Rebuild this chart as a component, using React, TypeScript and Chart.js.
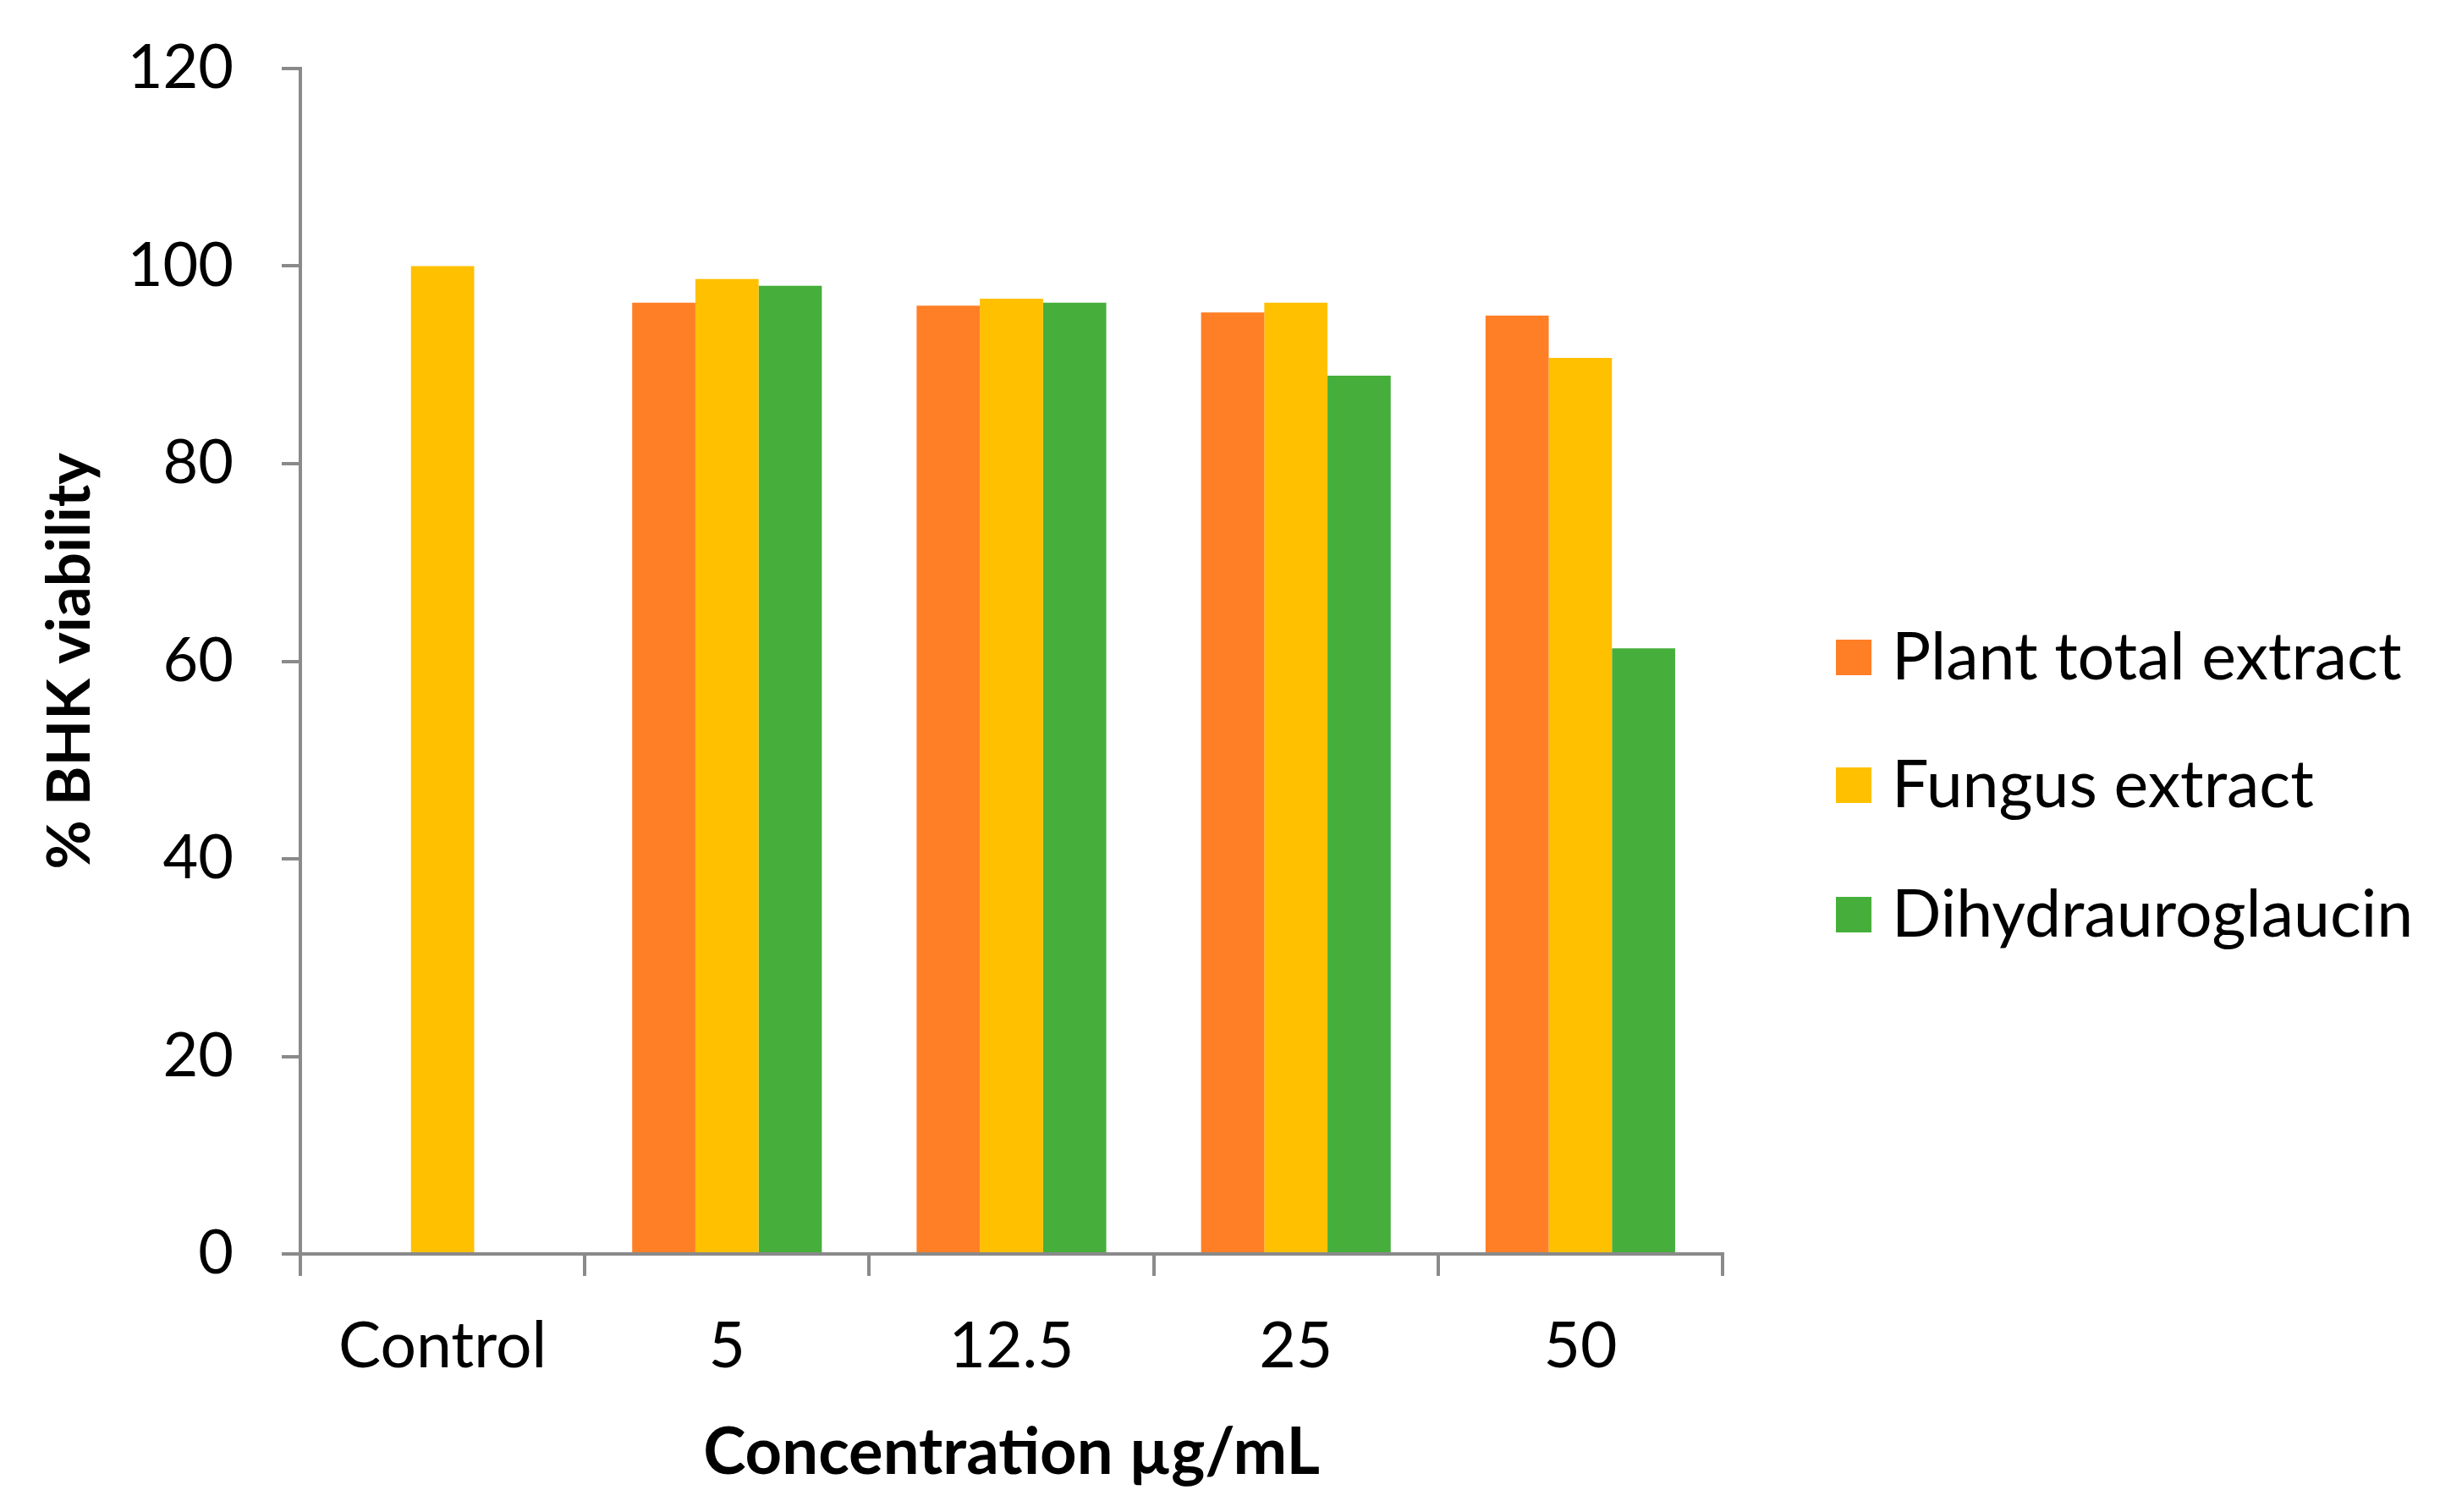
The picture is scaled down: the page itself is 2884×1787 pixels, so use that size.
import React, { useEffect, useRef } from "react";
import { Chart, registerables } from "chart.js";

Chart.register(...registerables);

const categories = ["Control", "5", "12.5", "25", "50"];
const seriesNames = ["Plant total extract", "Fungus extract", "Dihydrauroglaucin"];
const plantValues = [null, 96.3, 96.0, 95.3, 95.0];
const fungusValues = [100, 98.7, 96.7, 96.3, 90.7];
const dihydroValues = [null, 98.0, 96.3, 88.9, 61.3];
const seriesColors = ["#FF7F27", "#FFC000", "#46AF3B"];
const yTitle = "% BHK viability";
const xTitle = "Concentration µg/mL";

const FONT = "Lato";
const AXIS = "#8a8a8a";

const legendPlugin = {
  id: "customLegend",
  afterDraw(chart: any) {
    const ctx = chart.ctx;
    const rows = [778, 929, 1082];
    ctx.save();
    chart.data.datasets.forEach((ds: any, i: number) => {
      const cy = rows[i];
      ctx.fillStyle = ds.backgroundColor;
      ctx.fillRect(2170, cy - 22, 42, 42);
      ctx.fillStyle = "#000";
      ctx.font = `77px ${FONT}`;
      ctx.textBaseline = "middle";
      ctx.textAlign = "left";
      ctx.fillText(ds.label, 2236, cy);
    });
    ctx.restore();
  },
};

export default function App() {
  const ref = useRef<HTMLCanvasElement | null>(null);
  useEffect(() => {
    document.body.style.margin = "0";
    const chart = new Chart(ref.current as HTMLCanvasElement, {
      type: "bar",
      data: {
        labels: categories,
        datasets: [
          { label: seriesNames[0], data: plantValues as any, backgroundColor: seriesColors[0] },
          { label: seriesNames[1], data: fungusValues as any, backgroundColor: seriesColors[1] },
          { label: seriesNames[2], data: dihydroValues as any, backgroundColor: seriesColors[2] },
        ],
      },
      options: {
        animation: false,
        responsive: false,
        maintainAspectRatio: false,
        devicePixelRatio: 1,
        layout: { padding: { top: 81, right: 848, left: 0, bottom: 0 } },
        datasets: { bar: { categoryPercentage: 0.6667, barPercentage: 1 } },
        plugins: { legend: { display: false }, tooltip: { enabled: false } },
        scales: {
          x: {
            grid: { drawOnChartArea: false, drawTicks: true, tickLength: 26, color: AXIS, lineWidth: 4, offset: true },
            border: { display: true, color: AXIS, width: 4 },
            ticks: { color: "#000", font: { family: FONT, size: 75 }, padding: 39 },
            title: {
              display: true,
              text: xTitle,
              color: "#000",
              font: { family: FONT, size: 76, weight: "bold" },
              padding: { top: 0, bottom: 24 },
            },
            afterFit(scale: any) {
              scale.height = 305;
            },
          },
          y: {
            min: 0,
            max: 120,
            ticks: { stepSize: 20, color: "#000", font: { family: FONT, size: 72 }, padding: 57 },
            grid: { drawOnChartArea: false, drawTicks: true, tickLength: 22, color: AXIS, lineWidth: 4 },
            border: { display: true, color: AXIS, width: 4 },
            title: {
              display: true,
              text: yTitle,
              color: "#000",
              font: { family: FONT, size: 71, weight: "bold" },
              padding: { top: 41, bottom: 0 },
            },
            afterFit(scale: any) {
              scale.width = 355;
              scale.paddingTop = 0;
              scale.paddingBottom = 0;
            },
          },
        },
      },
      plugins: [legendPlugin],
    });
    return () => chart.destroy();
  }, []);
  return (
    <div style={{ position: "fixed", left: 0, top: 0, width: 2884, height: 1787, background: "#fff" }}>
      <canvas ref={ref} width={2884} height={1787} style={{ width: 2884, height: 1787, display: "block" }} />
    </div>
  );
}
